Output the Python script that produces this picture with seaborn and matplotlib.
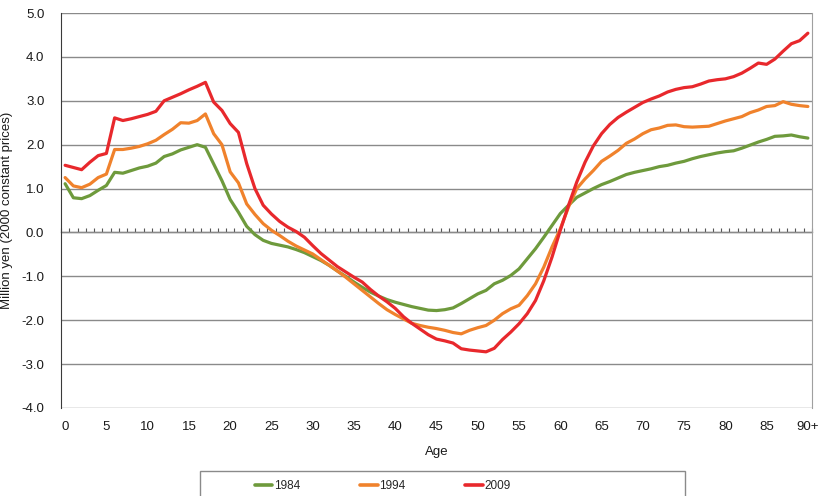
import numpy as np
import pandas as pd
import matplotlib
matplotlib.use('Agg')
import matplotlib.pyplot as plt
import seaborn as sns
from matplotlib.lines import Line2D
from matplotlib.patches import Rectangle

# ages 0..90 (last one is 90+)
ages = list(range(91))
tick_ages = list(range(0, 91, 5))
tick_labels = [str(a) for a in tick_ages[:-1]] + ['90+']
years = ['1984', '1994', '2009']

v1984 = [1.11, 0.79, 0.77, 0.84, 0.96, 1.07, 1.37, 1.35, 1.41, 1.47,
         1.51, 1.58, 1.73, 1.79, 1.88, 1.94, 2.00, 1.94, 1.56, 1.18,
         0.75, 0.46, 0.14, -0.05, -0.18, -0.25, -0.29, -0.33, -0.39, -0.46,
         -0.55, -0.64, -0.75, -0.88, -1.00, -1.13, -1.25, -1.36, -1.45, -1.53,
         -1.59, -1.64, -1.69, -1.73, -1.77, -1.78, -1.76, -1.72, -1.62, -1.51,
         -1.40, -1.32, -1.17, -1.09, -0.98, -0.83, -0.60, -0.37, -0.11, 0.16,
         0.43, 0.62, 0.80, 0.90, 1.00, 1.09, 1.16, 1.24, 1.32, 1.37,
         1.41, 1.45, 1.50, 1.53, 1.58, 1.62, 1.68, 1.73, 1.77, 1.81,
         1.84, 1.86, 1.92, 1.99, 2.06, 2.12, 2.19, 2.20, 2.22, 2.18,
         2.15]

v1994 = [1.25, 1.06, 1.02, 1.10, 1.25, 1.33, 1.89, 1.89, 1.92, 1.96,
         2.02, 2.10, 2.23, 2.35, 2.50, 2.49, 2.55, 2.70, 2.25, 2.00,
         1.38, 1.13, 0.65, 0.41, 0.20, 0.05, -0.07, -0.20, -0.31, -0.40,
         -0.49, -0.62, -0.75, -0.88, -1.02, -1.17, -1.32, -1.47, -1.62, -1.76,
         -1.87, -1.97, -2.07, -2.12, -2.16, -2.19, -2.23, -2.28, -2.31, -2.23,
         -2.17, -2.12, -2.00, -1.85, -1.74, -1.66, -1.44, -1.17, -0.79, -0.33,
         0.08, 0.58, 1.00, 1.22, 1.41, 1.62, 1.74, 1.87, 2.03, 2.13,
         2.25, 2.34, 2.38, 2.44, 2.45, 2.41, 2.40, 2.41, 2.42, 2.48,
         2.54, 2.59, 2.64, 2.73, 2.79, 2.87, 2.89, 2.98, 2.92, 2.89,
         2.87]

v2009 = [1.53, 1.48, 1.43, 1.60, 1.75, 1.80, 2.61, 2.55, 2.59, 2.64,
         2.69, 2.76, 3.00, 3.08, 3.16, 3.25, 3.33, 3.42, 2.97, 2.78,
         2.48, 2.28, 1.57, 1.00, 0.62, 0.42, 0.25, 0.12, 0.02, -0.11,
         -0.30, -0.48, -0.63, -0.78, -0.90, -1.02, -1.13, -1.30, -1.45, -1.58,
         -1.73, -1.92, -2.07, -2.20, -2.33, -2.43, -2.47, -2.52, -2.65, -2.68,
         -2.70, -2.72, -2.64, -2.44, -2.27, -2.08, -1.85, -1.55, -1.10, -0.56,
         0.05, 0.62, 1.15, 1.60, 1.97, 2.25, 2.46, 2.62, 2.74, 2.85,
         2.96, 3.04, 3.11, 3.20, 3.26, 3.30, 3.32, 3.38, 3.45, 3.48,
         3.50, 3.55, 3.63, 3.74, 3.86, 3.83, 3.95, 4.13, 4.30, 4.37,
         4.54]

colors = {'1984': '#6E9A3C', '1994': '#F0822C', '2009': '#E8282C'}

df = pd.DataFrame({
    'Age': ages * 3,
    'value': v1984 + v1994 + v2009,
    'year': [y for y in years for _ in ages],
})

sns.set_style('white')
plt.rcParams['font.family'] = ['Liberation Sans', 'DejaVu Sans']

W, H = 821, 496
fig = plt.figure(figsize=(W / 100, H / 100), dpi=100)
ax = fig.add_axes([61 / W, 1 - 408 / H, (812 - 61) / W, (408 - 13) / H])

sns.lineplot(data=df, x='Age', y='value', hue='year', palette=colors,
             linewidth=2.3, ax=ax, legend=False)

ax.set_xlim(-0.5, 90.5)
ax.set_ylim(-4, 5)
yt = np.arange(-4, 5.5, 1)
ax.set_yticks(yt, [f'{v:.1f}' for v in yt])
ax.set_xticks(tick_ages, tick_labels)
ax.yaxis.grid(True, color='#8a8a8a', linewidth=1.0)
ax.xaxis.grid(False)
ax.set_axisbelow(True)
ax.spines['top'].set_visible(False)
ax.spines['bottom'].set_visible(False)
ax.spines['left'].set_color('#3a3a3a')
ax.spines['right'].set_color('#a0a0a0')
ax.tick_params(axis='both', length=0, labelsize=9.5, colors='#1a1a1a')
ax.tick_params(axis='x', pad=9)
ax.tick_params(axis='y', pad=12)
ax.set_xlabel('Age', fontsize=9.5, labelpad=10, color='#1a1a1a')
ax.set_ylabel('Million yen (2000 constant prices)', fontsize=9.5, labelpad=6, color='#1a1a1a')

# horizontal axis line at zero with small upward category ticks
sec = ax.secondary_xaxis(4 / 9)
sec.set_xticks(np.arange(-0.5, 91, 1))
sec.xaxis.set_ticks_position('top')
sec.tick_params(axis='x', direction='out', length=3, width=0.8, color='#555555',
                labelbottom=False, labeltop=False)
for s in sec.spines.values():
    s.set_color('#555555')
    s.set_linewidth(0.9)

# legend box (bottom edge runs past the figure)
fig.patches.append(Rectangle((200 / W, -0.05), (685 - 200) / W, (496 - 471) / H + 0.05,
                             transform=fig.transFigure, facecolor='white',
                             edgecolor='#8a8a8a', linewidth=1.0))
handles = [Line2D([], [], color=colors[y], linewidth=2.6) for y in years]
fig.legend(handles, years, loc='center left', bbox_to_anchor=(244 / W, 1 - 486 / H),
           ncol=3, frameon=False, fontsize=8.5, handlelength=1.5,
           handletextpad=0.15, columnspacing=5.05)

fig.savefig('out.png', dpi=100)
